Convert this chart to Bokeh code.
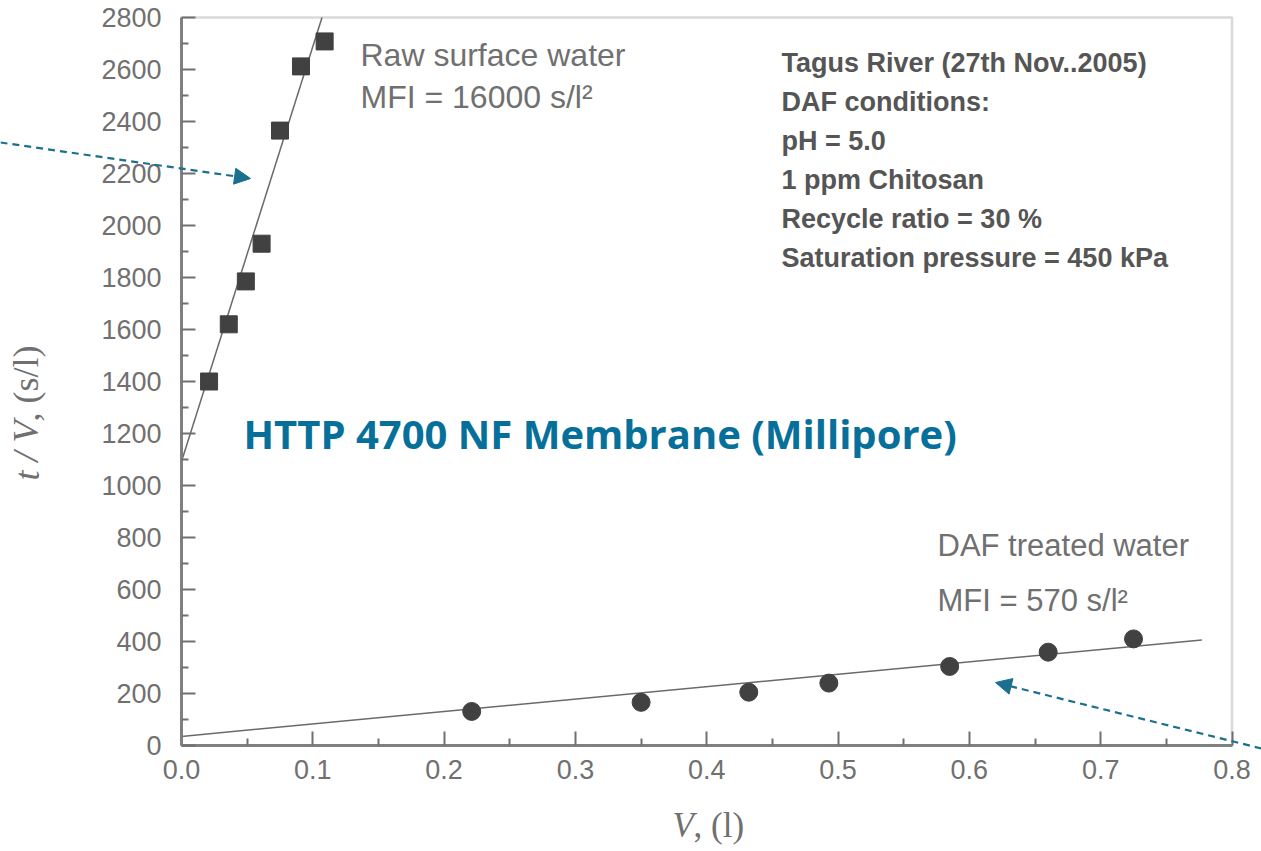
from bokeh.plotting import figure
from bokeh.models import (Range1d, FixedTicker, PrintfTickFormatter, Label, Arrow, NormalHead,
                          LinearAxis, BoxAnnotation)
from bokeh.embed import file_html
from bokeh.resources import INLINE

# ---- data ----
raw_v = [0.021, 0.036, 0.049, 0.061, 0.075, 0.091, 0.109]
raw_tv = [1400, 1620, 1785, 1930, 2365, 2612, 2708]
raw_fit_v = [0.0, 0.107]
raw_fit_tv = [1092, 2800]

daf_v = [0.221, 0.350, 0.432, 0.493, 0.585, 0.660, 0.725]
daf_tv = [131, 166, 205, 240, 304, 359, 410]
daf_fit_v = [0.0, 0.777]
daf_fit_tv = [35, 406]

x_ticks = [0.0, 0.1, 0.2, 0.3, 0.4, 0.5, 0.6, 0.7, 0.8]
x_minor = [0.05, 0.15, 0.25, 0.35, 0.45, 0.55, 0.65, 0.75]
y_ticks = list(range(0, 2801, 200))
y_minor = list(range(100, 2800, 200))

info_lines = [
    "Tagus River (27th Nov..2005)",
    "DAF conditions:",
    "pH = 5.0",
    "1 ppm Chitosan",
    "Recycle ratio = 30 %",
    "Saturation pressure = 450 kPa",
]

GRAY = "#707070"
DARK = "#414141"
BLUE = "#07709a"
ARROW = "#1b6f8f"

W, H = 1261, 851
X0_PX, X_PER = 181, 1313.125     # pixel of V=0, pixels per unit V
Y0_PX, Y_PER = 745, 0.26          # pixel of t/V=0, pixels per unit t/V


def px(pix):
    return (pix - X0_PX) / X_PER


def py(pix):
    return (Y0_PX - pix) / Y_PER


# the frame covers the whole canvas; axes are pinned at V=0 and t/V=0
p = figure(width=W, height=H, output_backend="svg", toolbar_location=None, title=None,
           x_range=Range1d(px(0), px(W)), y_range=Range1d(py(H), py(0)),
           x_axis_location=None, y_axis_location=None,
           min_border=0, min_border_left=0, min_border_right=0,
           min_border_top=0, min_border_bottom=0)
p.background_fill_color = "white"
p.border_fill_color = "white"
p.outline_line_color = None
p.xgrid.visible = False
p.ygrid.visible = False

# plot box (top and right edges)
p.add_layout(BoxAnnotation(left=0, right=0.8, bottom=0, top=2800, fill_alpha=0,
                           line_color="#808080", line_width=2.5, level="underlay"))

xaxis = LinearAxis(fixed_location=0, bounds=(0, 0.8),
                   ticker=FixedTicker(ticks=x_ticks, minor_ticks=x_minor),
                   formatter=PrintfTickFormatter(format="%.1f"))
yaxis = LinearAxis(fixed_location=0, bounds=(0, 2800),
                   ticker=FixedTicker(ticks=y_ticks, minor_ticks=y_minor),
                   formatter=PrintfTickFormatter(format="%d"))
for ax in (xaxis, yaxis):
    ax.axis_line_color = "#808080"
    ax.axis_line_width = 3
    ax.major_tick_line_color = "#707070"
    ax.minor_tick_line_color = "#707070"
    ax.major_tick_line_width = 2
    ax.minor_tick_line_width = 2
    ax.major_tick_in = 14
    ax.major_tick_out = 0
    ax.minor_tick_in = 7
    ax.minor_tick_out = 0
    ax.major_label_text_font = "Liberation Sans"
    ax.major_label_text_font_size = "27px"
    ax.major_label_text_color = GRAY
xaxis.major_label_standoff = 14
yaxis.major_label_standoff = 20
p.add_layout(xaxis, "below")
p.add_layout(yaxis, "left")

# fit lines
p.line(raw_fit_v, raw_fit_tv, line_color="#6a6a6a", line_width=1.5)
p.line(daf_fit_v, daf_fit_tv, line_color="#6a6a6a", line_width=1.5)
# points
p.scatter(raw_v, raw_tv, marker="square", size=17, fill_color=DARK, line_color=DARK)
p.scatter(daf_v, daf_tv, marker="circle", size=18, fill_color=DARK, line_color=DARK)


def lab(x, y, text, size, color=GRAY, font="Liberation Sans", style="normal", angle=0,
        baseline="middle"):
    p.add_layout(Label(x=x, y=y, text=text, text_font=font, text_font_size=size,
                       text_color=color, text_font_style=style, text_baseline=baseline,
                       text_align="left", angle=angle))


lab(px(360), py(54), "Raw surface water", "32px")
lab(px(360), py(96), "MFI = 16000 s/l\u00b2", "32px")
lab(px(937), py(545), "DAF treated water", "31px")
lab(px(937), py(600), "MFI = 570 s/l\u00b2", "31px")

for i, t in enumerate(info_lines):
    lab(px(781), py(62 + 39 * i), t, "27px", color="#555555", style="bold")

lab(px(243), py(433), "HTTP 4700 NF Membrane (Millipore)", "40px", color=BLUE,
    font="Open Sans", style="bold")

# axis titles
lab(px(672), py(825), "V", "35px", font="Liberation Serif", style="italic")
lab(px(693), py(825), ", (l)", "35px", font="Liberation Serif")
lab(px(26), py(480), "t / V", "36px", font="Liberation Serif", style="italic", angle=1.5708)
lab(px(26), py(421), ", (s/l)", "36px", font="Liberation Serif", angle=1.5708)

# dashed arrows
for xs, ys, xe, ye in [(px(0), py(142), px(250), py(178)), (px(W), py(748), px(995), py(682))]:
    p.add_layout(Arrow(x_start=xs, y_start=ys, x_end=xe, y_end=ye,
                       line_color=ARROW, line_width=2.2, line_dash="7 5",
                       end=NormalHead(size=16, fill_color=ARROW, line_color=ARROW)))

open("out.html", "w").write(file_html(p, INLINE))
